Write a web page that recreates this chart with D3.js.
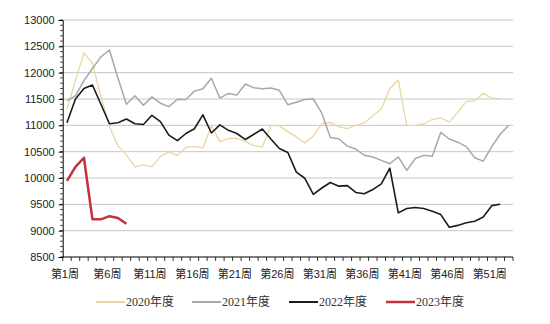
<!DOCTYPE html>
<html><head><meta charset="utf-8">
<script src="https://cdn.jsdelivr.net/npm/d3@7"></script>
<style>body{margin:0;background:#fff}svg{display:block}</style>
</head><body><svg id="c" width="550" height="324"></svg>
<script>
const weeks = d3.range(1, 54);
const yTicks = [8500, 9000, 9500, 10000, 10500, 11000, 11500, 12000, 12500, 13000];
const xLabelWeeks = [1, 6, 11, 16, 21, 26, 31, 36, 41, 46, 51];
const seriesNames = ["2020年度", "2021年度", "2022年度", "2023年度"];
const s2020 = [11300,11850,12370,12180,11550,10980,10610,10440,10210,10250,10210,10410,10490,10430,10580,10595,10570,10995,10690,10750,10755,10690,10615,10590,11000,10990,10880,10780,10665,10795,11030,11055,10970,10940,11000,11045,11180,11310,11700,11860,10995,11000,11030,11110,11140,11060,11250,11450,11465,11610,11515,11500];
const s2021 = [11470,11560,11850,12080,12300,12430,11900,11400,11560,11380,11540,11420,11355,11495,11490,11650,11695,11895,11515,11605,11575,11785,11712,11695,11708,11665,11390,11440,11490,11500,11230,10770,10745,10605,10550,10432,10400,10335,10270,10400,10145,10370,10430,10415,10865,10740,10680,10595,10385,10320,10595,10830,11000];
const s2022 = [11050,11500,11700,11765,11400,11030,11050,11120,11030,11015,11190,11070,10815,10710,10845,10935,11200,10855,11010,10905,10845,10730,10830,10930,10740,10560,10485,10112,9995,9688,9810,9915,9845,9855,9725,9700,9780,9890,10185,9338,9420,9440,9420,9370,9305,9065,9100,9150,9180,9260,9475,9500];
const s2023 = [9945,10210,10385,9215,9215,9275,9240,9130];
const seriesData = [s2020, s2021, s2022, s2023];
const colors = ["#e9d6a2", "#a8a8a8", "#1c1c1c", "#c4323c"];
const widths = [1.3, 1.5, 1.6, 2.5];

const svg = d3.select("#c");
svg.append("rect").attr("width",550).attr("height",324).attr("fill","#fff");
const x = d3.scaleBand().domain(weeks).range([62.7, 513]);
const y = d3.scaleLinear().domain([8500, 13000]).range([257, 20]);
const xc = w => x(w) + x.bandwidth()/2;

// gridlines
svg.append("g").selectAll("line").data(yTicks.filter(v => v > 8500)).join("line")
  .attr("x1", 62.7).attr("x2", 513).attr("y1", d => y(d)).attr("y2", d => y(d))
  .attr("stroke", "#c6c6c6").attr("stroke-width", 1);

// lines
const line = d3.line().x((d,i) => xc(weeks[i])).y(d => y(d));
seriesData.forEach((s, k) => {
  svg.append("path").datum(s).attr("d", line).attr("fill","none")
    .attr("stroke", colors[k]).attr("stroke-width", widths[k]).attr("stroke-linejoin","round");
});

// y axis
const yAxis = svg.append("g").attr("transform","translate(62.7,0)")
  .call(d3.axisLeft(y).tickValues(yTicks).tickSize(4).tickFormat(d3.format("d")));
yAxis.select(".domain").attr("stroke","#000");
yAxis.selectAll(".tick line").attr("stroke","#000");
yAxis.selectAll("text").attr("font-family","Liberation Sans, Arial, sans-serif").attr("font-size", 11).attr("fill","#222").attr("x", -8);
svg.append("g").selectAll("line").data(d3.range(8500, 13001, 100)).join("line")
  .attr("x1", 60.2).attr("x2", 62.7).attr("y1", d => y(d)).attr("y2", d => y(d))
  .attr("stroke","#000").attr("stroke-width",0.8);

// x axis
svg.append("line").attr("x1",62.7).attr("x2",513).attr("y1",257).attr("y2",257).attr("stroke","#000");
svg.append("g").selectAll("line").data(weeks.concat([54])).join("line")
  .attr("x1", d => d <= 53 ? x(d) : 513).attr("x2", d => d <= 53 ? x(d) : 513)
  .attr("y1", 257).attr("y2", 261).attr("stroke","#000").attr("stroke-width",0.8);
svg.append("g").selectAll("text").data(xLabelWeeks).join("text")
  .attr("x", d => xc(d) - 2).attr("y", 278).attr("text-anchor","middle")
  .attr("font-family","Liberation Sans, 'Noto Sans CJK SC', sans-serif").attr("font-size", 11).attr("fill","#222")
  .text(d => "第" + d + "周");

// legend
const lx = [96, 192, 289, 386];
const lg = svg.append("g").selectAll("g").data(seriesNames).join("g")
  .attr("transform", (d,i) => `translate(${lx[i]},302)`);
lg.append("line").attr("x1",0).attr("x2",29).attr("y1",0).attr("y2",0)
  .attr("stroke",(d,i)=>colors[i]).attr("stroke-width",(d,i)=>Math.max(widths[i],2));
lg.append("text").attr("x",30).attr("y",4).attr("font-family","Liberation Serif, 'Noto Sans CJK SC', serif")
  .attr("font-size",12).attr("fill","#333").text(d=>d);
</script></body></html>
